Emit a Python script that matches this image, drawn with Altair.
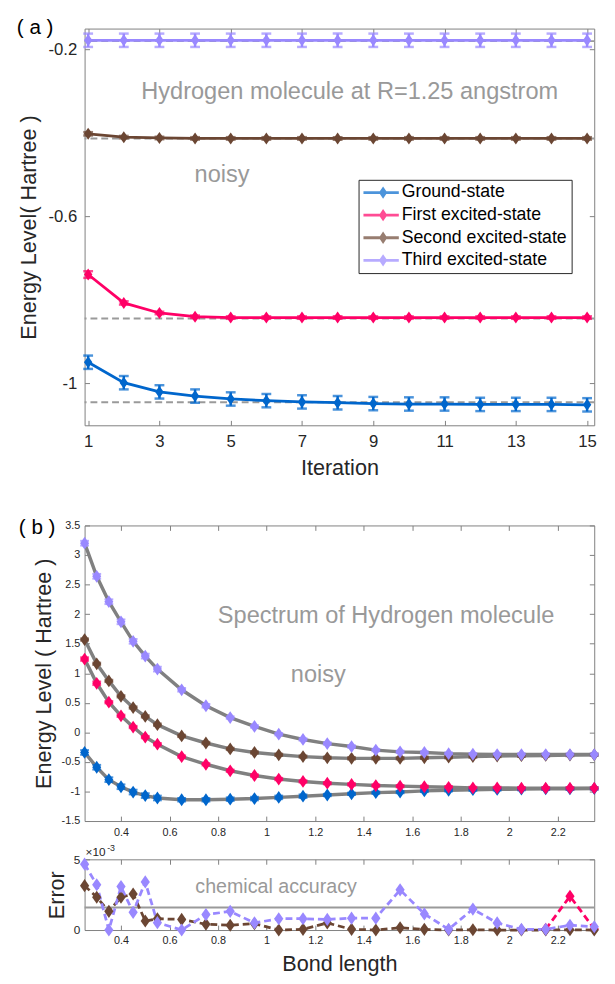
import altair as alt
import pandas as pd

FONT = "Liberation Sans"
AXC = "#7f7f7f"
TXT = "#262626"
ANN = "#999999"

states = ["Ground-state", "First excited-state", "Second excited-state", "Third excited-state"]
colors = ["#0066CC", "#FF0066", "#6B4633", "#9988FF"]

# ---------------- panel (a): energy vs iteration ----------------
iterations = [1, 2, 3, 4, 5, 6, 7, 8, 9, 10, 11, 12, 13, 14, 15]
a_ground = [-0.949, -0.998, -1.020, -1.030, -1.037, -1.041, -1.044, -1.046, -1.048, -1.049, -1.049, -1.050, -1.050, -1.050, -1.051]
a_first = [-0.739, -0.807, -0.831, -0.840, -0.842, -0.842, -0.842, -0.842, -0.842, -0.842, -0.842, -0.842, -0.842, -0.842, -0.842]
a_second = [-0.402, -0.410, -0.412, -0.413, -0.413, -0.413, -0.413, -0.413, -0.413, -0.413, -0.413, -0.413, -0.413, -0.413, -0.413]
a_third = [-0.178, -0.178, -0.178, -0.178, -0.178, -0.178, -0.178, -0.178, -0.178, -0.178, -0.178, -0.178, -0.178, -0.178, -0.178]
a_ground_err = [0.016, 0.016, 0.016, 0.016, 0.016, 0.016, 0.016, 0.016, 0.016, 0.016, 0.016, 0.016, 0.016, 0.016, 0.016]
a_first_err = [0.008, 0.004, 0.003, 0.003, 0.003, 0.003, 0.003, 0.003, 0.003, 0.003, 0.003, 0.003, 0.003, 0.003, 0.003]
a_second_err = [0.004, 0.003, 0.003, 0.003, 0.003, 0.003, 0.003, 0.003, 0.003, 0.003, 0.003, 0.003, 0.003, 0.003, 0.003]
a_third_err = [0.016, 0.016, 0.016, 0.016, 0.016, 0.016, 0.016, 0.016, 0.016, 0.016, 0.016, 0.016, 0.016, 0.016, 0.016]
a_exact = [-1.045, -0.844, -0.413, -0.180]
a_xticks = [1, 3, 5, 7, 9, 11, 13, 15]
a_yticks = [-1, -0.6, -0.2]
a_xdomain = [0.9, 15.2]
a_ydomain = [-1.1, -0.15]

# ---------------- panel (b): spectrum vs bond length ----------------
bond = [0.25, 0.3, 0.35, 0.4, 0.45, 0.5, 0.55, 0.65, 0.75, 0.85, 0.95, 1.05, 1.15, 1.25,
        1.35, 1.45, 1.55, 1.65, 1.75, 1.85, 1.95, 2.05, 2.15, 2.25, 2.35]
b_ground = [-0.34, -0.59, -0.80, -0.92, -1.01, -1.07, -1.11, -1.14, -1.14, -1.13, -1.12, -1.10, -1.08,
            -1.06, -1.04, -1.02, -1.01, -0.99, -0.98, -0.97, -0.965, -0.96, -0.955, -0.955, -0.95]
b_first = [1.24, 0.83, 0.51, 0.28, 0.09, -0.08, -0.20, -0.41, -0.54, -0.65, -0.73, -0.79, -0.83,
           -0.86, -0.88, -0.90, -0.91, -0.92, -0.93, -0.94, -0.94, -0.945, -0.945, -0.945, -0.945]
b_second = [1.57, 1.16, 0.87, 0.61, 0.42, 0.27, 0.13, -0.06, -0.18, -0.28, -0.34, -0.38, -0.41,
            -0.43, -0.44, -0.44, -0.44, -0.43, -0.42, -0.41, -0.40, -0.395, -0.39, -0.385, -0.38]
b_third = [3.20, 2.64, 2.21, 1.87, 1.54, 1.29, 1.07, 0.72, 0.45, 0.25, 0.10, -0.03, -0.12,
           -0.19, -0.24, -0.30, -0.33, -0.34, -0.36, -0.37, -0.375, -0.375, -0.375, -0.375, -0.375]
# small statistical error bars visible at short bond lengths
b_ground_err = [0.04, 0.04, 0.04, 0.04, 0.04, 0.04, 0.04, 0.03, 0.03, 0.03, 0.03, 0.03, 0.03,
                0.02, 0.02, 0.02, 0.02, 0.02, 0.02, 0.02, 0.02, 0.02, 0.02, 0.02, 0.02]
b_first_err = [0.03, 0.03, 0.02, 0.02, 0.02, 0.02, 0.02, 0.02, 0.02, 0.02, 0.02, 0.02, 0.02,
               0.02, 0.02, 0.02, 0.02, 0.02, 0.02, 0.02, 0.02, 0.02, 0.02, 0.02, 0.02]
b_second_err = [0.02, 0.02, 0.02, 0.02, 0.02, 0.02, 0.02, 0.02, 0.02, 0.02, 0.02, 0.02, 0.02,
                0.02, 0.02, 0.02, 0.02, 0.02, 0.02, 0.02, 0.02, 0.02, 0.02, 0.02, 0.02]
b_third_err = [0.04, 0.04, 0.04, 0.04, 0.04, 0.04, 0.04, 0.03, 0.03, 0.02, 0.02, 0.02, 0.02,
               0.02, 0.02, 0.02, 0.02, 0.02, 0.02, 0.02, 0.02, 0.02, 0.02, 0.02, 0.02]
b_xticks = [0.4, 0.6, 0.8, 1, 1.2, 1.4, 1.6, 1.8, 2, 2.2]
b_yticks = [-1.5, -1, -0.5, 0, 0.5, 1, 1.5, 2, 2.5, 3, 3.5]
b_xdomain = [0.25, 2.35]
b_ydomain = [-1.5, 3.5]

# ---------------- error panel (units of 1e-3 Hartree); None = not shown ----------------
N = None
e_ground = [N, N, N, N, N, N, N, N, N, N, N, N, N, N, N, N, N, N, N, N, N, N, N, N, N]
e_first = [N, N, N, N, N, N, N, N, N, N, N, N, N, N, N, N, N, N, N, N, N, N, 0.05, 2.39, 0.08]
e_second = [3.14, 2.32, 1.32, 2.32, 2.55, 0.64, 0.80, 0.75, 0.41, 0.34, 0.45, 0.00, 0.05,
            0.50, 0.05, 0.00, 0.16, 0.05, 0.00, 0.02, 0.00, 0.00, 0.00, 0.02, 0.00]
e_third = [4.66, 3.20, 0.00, 3.07, 1.25, 3.40, 0.52, 0.00, 1.09, 1.32, 0.50, 0.80, 0.80,
           0.75, 0.84, 0.84, 2.84, 1.14, 0.05, 1.48, 0.50, 0.05, 0.05, 0.34, 0.23]
chem_acc = [1.6]
e_yticks = [0, 5]
e_ydomain = [0, 5]

# ---------------- texts ----------------
a_texts = ["Hydrogen molecule at R=1.25 angstrom", "noisy"]
b_texts = ["Spectrum of Hydrogen molecule", "noisy"]
e_texts = ["chemical accuracy"]
panel_labels = ["( a )", "( b )"]

# ---------------- helpers ----------------
def long_df(xs, series, xname, yname):
    rows = []
    for k, (s, vals) in enumerate(zip(states, series)):
        for xv, v in zip(xs, vals):
            if v is None:
                continue
            rows.append({xname: xv, yname: v, "State": s, "k": k})
    return pd.DataFrame(rows)

cscale = alt.Scale(domain=states, range=colors)
DIAMOND = "M0,-1L0.7,0L0,1L-0.7,0Z"
LEGSYM = ("M-0.89,-0.16L3.11,-0.16L3.11,0.16L-0.89,0.16Z "
          "M1.33,-0.7L1.8,0L1.33,0.7L0.86,0Z")
LBL = "'' + datum.value"


def main_axis(orient, ticks, lsize, title, tsize, lpad, tpad):
    return alt.Axis(orient=orient, values=ticks, labelExpr=LBL, offset=-5, tickSize=5,
                    domain=False, grid=False, labelFontSize=lsize, labelPadding=lpad,
                    title=title, titleFontSize=tsize, titlePadding=tpad,
                    labelFont=FONT, titleFont=FONT, labelColor=TXT, titleColor=TXT,
                    tickColor=AXC, titleFontWeight="normal", labelFlush=False)


def box_axis(orient, ticks):
    return alt.Axis(orient=orient, values=ticks, labels=False, title=None, offset=-5,
                    tickSize=5, domain=False, grid=False, tickColor=AXC)


def text_layer(txt, x, y, size, color=ANN, align="center"):
    return alt.Chart(pd.DataFrame({"t": [txt]})).mark_text(
        font=FONT, fontSize=size, color=color, align=align, baseline="middle"
    ).encode(x=alt.value(x), y=alt.value(y), text="t:N")


# ---------------- panel (a) ----------------
dfa = long_df(iterations, [a_ground, a_first, a_second, a_third], "Iteration", "Energy")
dfa["Err"] = sum([a_ground_err, a_first_err, a_second_err, a_third_err], [])
dfa_ex = pd.DataFrame({"State": states, "Exact": a_exact})

xa = alt.Scale(domain=a_xdomain, nice=False, zero=False)
ya = alt.Scale(domain=a_ydomain, nice=False, zero=False)

# empty layer that only carries the legend (entries come from the colour scale domain)
a_legend = alt.Chart(dfa).transform_filter("false").mark_point(
    shape=DIAMOND, filled=True, size=150, opacity=1).encode(
    x=alt.X("Iteration:Q", scale=xa, axis=None),
    y=alt.Y("Energy:Q", scale=ya, axis=None),
    color=alt.Color("State:N", scale=cscale, legend=alt.Legend(
        title=None, orient="none", legendX=279, legendY=154, symbolType=LEGSYM,
        symbolSize=324, symbolStrokeWidth=0, symbolOpacity=1, labelFont=FONT,
        labelFontSize=18, labelColor="black", labelOffset=22, padding=4, rowPadding=5,
        strokeColor="#262626", fillColor="white", labelLimit=400)))
a_rules = alt.Chart(dfa_ex).mark_rule(color="#9a9a9a", strokeDash=[7, 4], strokeWidth=2).encode(
    y=alt.Y("Exact:Q", scale=ya, axis=None))
a_err = alt.Chart(dfa).mark_errorbar(ticks=True, size=10, thickness=2.5).encode(
    x=alt.X("Iteration:Q", scale=xa, axis=None),
    y=alt.Y("Energy:Q", scale=ya, axis=None),
    yError=alt.YError("Err:Q"),
    color=alt.Color("State:N", scale=cscale))
a_line = alt.Chart(dfa).mark_line(strokeWidth=2.8).encode(
    x=alt.X("Iteration:Q", scale=xa, axis=None),
    y=alt.Y("Energy:Q", scale=ya, axis=None),
    color=alt.Color("State:N", scale=cscale), detail="State:N", order="Iteration:Q")
a_pts = alt.Chart(dfa).mark_point(shape=DIAMOND, filled=True, size=150, opacity=1).encode(
    x=alt.X("Iteration:Q", scale=xa,
            axis=main_axis("bottom", a_xticks, 17, "Iteration", 22, 9, 8)),
    y=alt.Y("Energy:Q", scale=ya,
            axis=main_axis("left", a_yticks, 17, "Energy Level( Hartree )", 22, 8, 8)),
    color=alt.Color("State:N", scale=cscale))
a_box = alt.Chart(dfa).mark_point(opacity=0).encode(
    x=alt.X("Iteration:Q", scale=xa, axis=box_axis("top", a_xticks)),
    y=alt.Y("Energy:Q", scale=ya, axis=box_axis("right", a_yticks)))

panel_a = alt.layer(
    a_legend, a_rules, a_err, a_line, a_pts, a_box,
    text_layer(a_texts[0], 270, 65, 24),
    text_layer(a_texts[1], 140, 149, 24),
    text_layer(panel_labels[0], -69, 0, 21, color="black", align="left"),
).resolve_axis(x="independent", y="independent").properties(width=519, height=404)

# ---------------- panel (b) ----------------
dfb = long_df(bond, [b_ground, b_first, b_second, b_third], "Bond", "Energy")
dfb["Err"] = sum([b_ground_err, b_first_err, b_second_err, b_third_err], [])
xb = alt.Scale(domain=b_xdomain, nice=False, zero=False)
yb = alt.Scale(domain=b_ydomain, nice=False, zero=False)

b_line = alt.Chart(dfb).mark_line(color="#808080", strokeWidth=3.5).encode(
    x=alt.X("Bond:Q", scale=xb, axis=None),
    y=alt.Y("Energy:Q", scale=yb, axis=None),
    detail="State:N", order="Bond:Q")
b_err = alt.Chart(dfb).mark_errorbar(ticks=True, size=9, thickness=2).encode(
    x=alt.X("Bond:Q", scale=xb, axis=None),
    y=alt.Y("Energy:Q", scale=yb, axis=None),
    yError=alt.YError("Err:Q"),
    color=alt.Color("State:N", scale=cscale, legend=None))
b_pts = alt.Chart(dfb).mark_point(shape=DIAMOND, filled=True, size=170, opacity=1).encode(
    x=alt.X("Bond:Q", scale=xb, axis=main_axis("bottom", b_xticks, 11, None, 11, 6, 0)),
    y=alt.Y("Energy:Q", scale=yb,
            axis=main_axis("left", b_yticks, 11, "Energy Level ( Hartree )", 22, 5, 6)),
    color=alt.Color("State:N", scale=cscale, legend=None))
b_box = alt.Chart(dfb).mark_point(opacity=0).encode(
    x=alt.X("Bond:Q", scale=xb, axis=box_axis("top", b_xticks)),
    y=alt.Y("Energy:Q", scale=yb, axis=box_axis("right", b_yticks)))

panel_b = alt.layer(
    b_line, b_err, b_pts, b_box,
    text_layer(b_texts[0], 307, 92, 24),
    text_layer(b_texts[1], 238, 152, 24),
    text_layer(panel_labels[1], -67, 3, 21, color="black", align="left"),
).resolve_axis(x="independent", y="independent").properties(width=519, height=301)

# ---------------- error panel ----------------
dfe = long_df(bond, [e_ground, e_first, e_second, e_third], "Bond", "Error")
ye = alt.Scale(domain=e_ydomain, nice=False, zero=False)

e_chem = alt.Chart(pd.DataFrame({"c": chem_acc})).mark_rule(color="#9a9a9a", strokeWidth=2).encode(
    y=alt.Y("c:Q", scale=ye, axis=None))
e_line = alt.Chart(dfe).mark_line(strokeWidth=2.8, strokeDash=[7, 4]).encode(
    x=alt.X("Bond:Q", scale=xb, axis=None),
    y=alt.Y("Error:Q", scale=ye, axis=None),
    color=alt.Color("State:N", scale=cscale, legend=None), detail="State:N", order="Bond:Q")
e_pts = alt.Chart(dfe).mark_point(shape=DIAMOND, filled=True, size=180, opacity=1).encode(
    x=alt.X("Bond:Q", scale=xb, axis=main_axis("bottom", b_xticks, 11, "Bond length", 22, 5, 8)),
    y=alt.Y("Error:Q", scale=ye, axis=main_axis("left", e_yticks, 12, "Error", 22, 5, 5)),
    color=alt.Color("State:N", scale=cscale, legend=None))
e_box = alt.Chart(dfe).mark_point(opacity=0).encode(
    x=alt.X("Bond:Q", scale=xb, axis=box_axis("top", b_xticks)),
    y=alt.Y("Error:Q", scale=ye, axis=box_axis("right", e_yticks)))

panel_e = alt.layer(
    e_chem, e_line, e_pts, e_box,
    text_layer(e_texts[0], 195, 28, 20),
    text_layer("\u00d710", 1, -7, 12, color=TXT, align="left"),
    text_layer("-3", 23, -11, 9, color=TXT, align="left"),
).resolve_axis(x="independent", y="independent").properties(width=519, height=72)

lower = alt.vconcat(panel_b, panel_e, spacing=39, bounds="flush")
chart = alt.vconcat(panel_a, lower, spacing=102, bounds="flush").resolve_legend(
    color="independent"
).properties(
    padding={"left": 8, "top": 0, "right": 5, "bottom": 0}
).configure_view(stroke=AXC, strokeWidth=1).configure_text(font=FONT)

chart.save("out.html", embed_options={"renderer": "svg", "actions": False})
